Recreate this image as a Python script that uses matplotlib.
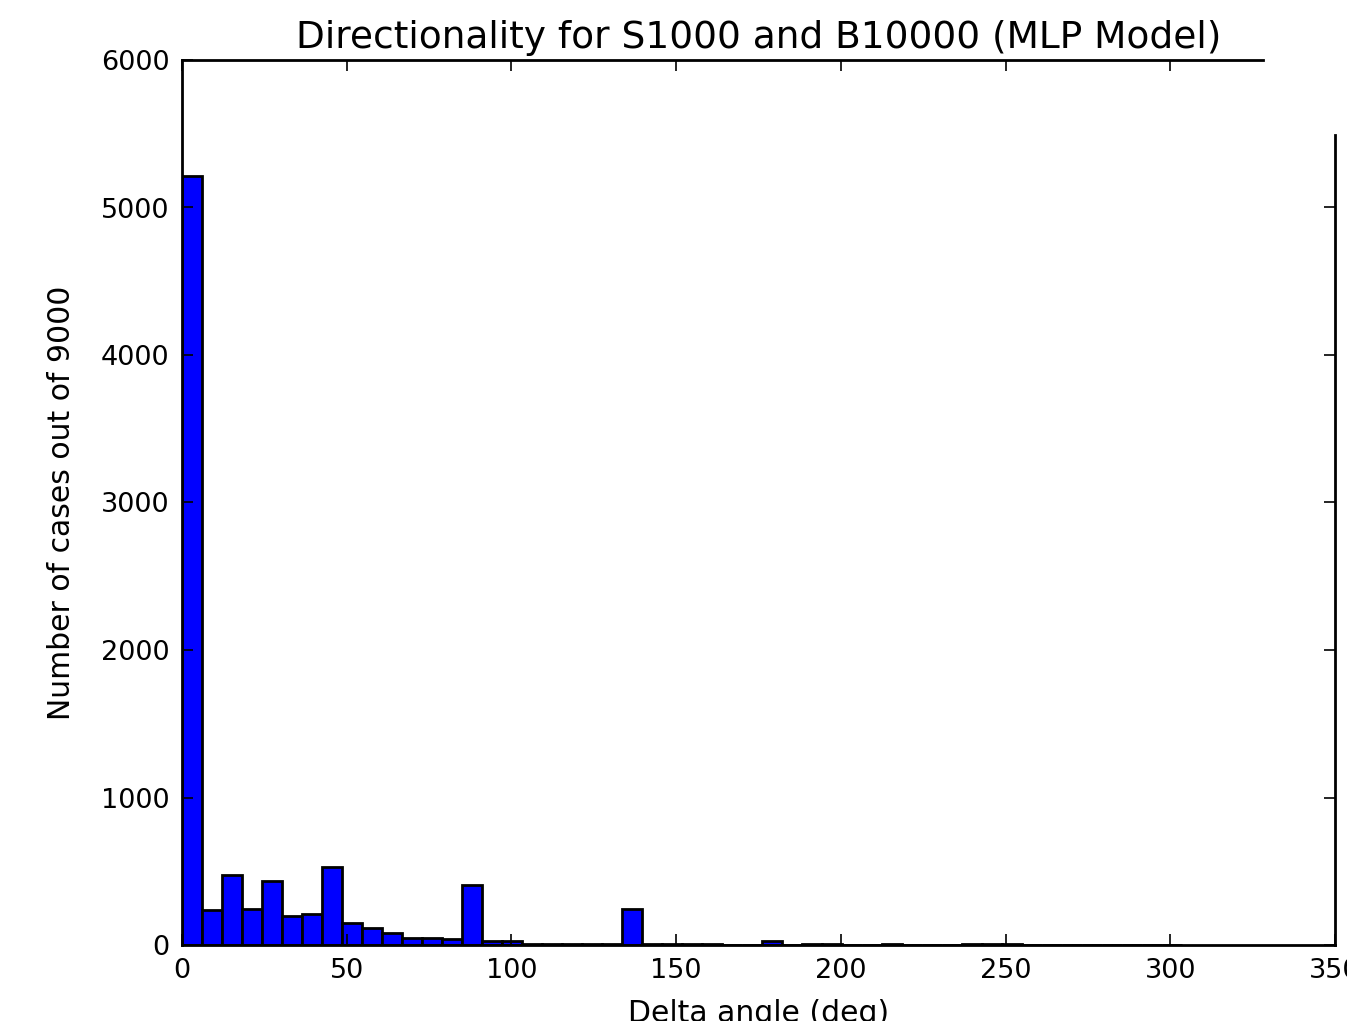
import matplotlib
matplotlib.use("Agg")
import matplotlib.pyplot as plt
import numpy as np

# ── Data ──────────────────────────────────────────────────────────────────────
bin_lo, bin_hi, n_bins = 0.0, 303.5, 50
counts = [5215, 235, 475, 244, 436, 199, 208, 527, 149, 115,
          81, 45, 45, 39, 407, 25, 25, 5, 5, 5,
          5, 5, 245, 5, 8, 8, 5, 3, 3, 25,
          3, 6, 6, 2, 2, 6, 2, 2, 2, 6,
          6, 6, 0, 0, 0, 0, 0, 0, 0, 0]
x_ticks = [0, 50, 100, 150, 200, 250, 300, 350]
y_ticks = [0, 1000, 2000, 3000, 4000, 5000, 6000]

edges = np.linspace(bin_lo, bin_hi, n_bins + 1)

fig = plt.figure(figsize=(13.47, 10.21), dpi=100)
W, H = 1347, 1021
ax = fig.add_axes([182 / W, (H - 945) / H, (1335 - 182) / W, (945 - 60) / H])

ax.hist(edges[:-1], bins=edges, weights=counts,
        color="#0000ff", edgecolor="black", linewidth=2.0)

ax.set_xlim(0, 350)
ax.set_ylim(0, 6000)
ax.set_xticks(x_ticks)
ax.set_yticks(y_ticks)

ax.tick_params(direction="in", top=True, right=True, length=8, width=1.2,
               labelsize=19.5, pad=9)
for s in ax.spines.values():
    s.set_linewidth(2.0)
    s.set_zorder(5)
# the reference has a clipped top spine and a short right spine
ax.spines["top"].set_bounds(0, 328)
ax.spines["right"].set_bounds(0, 5490)
ax.xaxis.get_major_ticks()[-1].tick2line.set_visible(False)
ax.yaxis.get_major_ticks()[-1].tick2line.set_visible(False)

ax.set_title("Directionality for S1000 and B10000 (MLP Model)", fontsize=27, pad=9)
ax.set_xlabel("Delta angle (deg)", fontsize=21.5, labelpad=11)
ax.set_ylabel("Number of cases out of 9000", fontsize=21.5, labelpad=18)

fig.savefig("out.png", dpi=100)
